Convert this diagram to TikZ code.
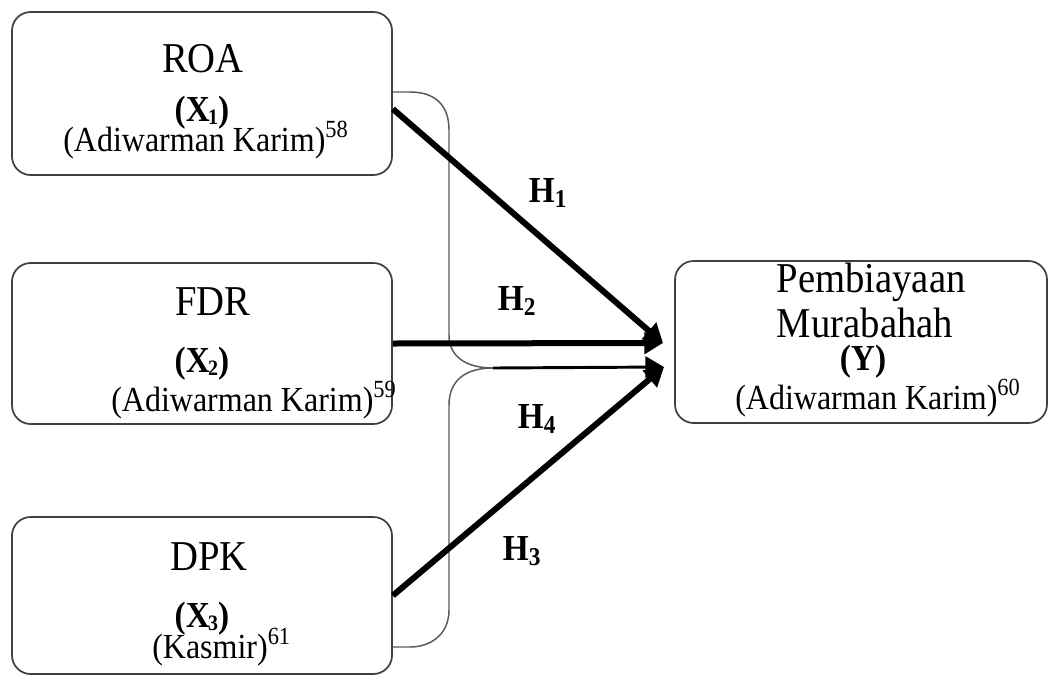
\documentclass[tikz,border=0pt]{standalone}
\usepackage{fontspec}
\usepackage{graphicx}
\setmainfont{Liberation Serif}
\usetikzlibrary{arrows.meta,calc}
\newcommand\vstretch[1]{\scalebox{1}[1.1]{#1}}
\newcommand\lowsub[1]{\kern-0.05em\raisebox{-0.1em}{\fontsize{15}{15}\selectfont #1}}
\begin{document}
\begin{tikzpicture}[x=0.75pt,y=-0.75pt,
  box/.style={draw=black!75, line width=1.3pt, rounded corners=14pt, inner sep=0pt},
  ttl/.style={anchor=base, inner sep=0pt, font=\fontsize{29}{30}\selectfont},
  var/.style={anchor=base, inner sep=0pt, font=\fontsize{25}{26}\selectfont\bfseries},
  cite/.style={anchor=base west, inner sep=0pt, font=\fontsize{24}{25}\selectfont},
  hyp/.style={anchor=base, inner sep=0pt, font=\fontsize{25}{26}\selectfont\bfseries},
  arr/.style={line width=4.5pt, -{Triangle[length=14pt,width=16pt]}},
  thinarr/.style={line width=2.2pt, -{Triangle[length=14pt,width=16pt]}},
  bracel/.style={draw=black!65, line width=1.1pt}]
\useasboundingbox (0,0) rectangle (1048,675);

% boxes
\node[box, minimum width=285pt, minimum height=122.25pt] (b1) at (202,93.5) {};
\node[box, minimum width=285pt, minimum height=120.75pt] (b2) at (202,343.5) {};
\node[box, minimum width=285pt, minimum height=117.75pt] (b3) at (202,595.5) {};
\node[box, minimum width=279pt, minimum height=121.5pt] (Y) at (861,342) {};

% texts box 1
\node[ttl] (t1) at (203,72) {\vstretch{ROA}};
\node[var] (v1) at (202,121) {\vstretch{(X\lowsub{1})}};
\node[cite] (c1) at (63,151) {\vstretch{(Adiwarman Karim)\textsuperscript{58}}};
% box 2
\node[ttl] (t2) at (213,315) {\vstretch{FDR}};
\node[var] (v2) at (202,372) {\vstretch{(X\lowsub{2})}};
\node[cite] (c2) at (111,411) {\vstretch{(Adiwarman Karim)\textsuperscript{59}}};
% box 3
\node[ttl] (t3) at (209,570) {\vstretch{DPK}};
\node[var] (v3) at (202,627) {\vstretch{(X\lowsub{3})}};
\node[cite] (c3) at (152,658) {\vstretch{(Kasmir)\textsuperscript{61}}};
% box Y
\node[ttl] (ty1) at (871,292) {\vstretch{Pembiayaan}};
\node[ttl] (ty2) at (865,337) {\vstretch{Murabahah}};
\node[var] (vy) at (863,370) {\vstretch{(Y)}};
\node[cite] (cy) at (735,409) {\vstretch{(Adiwarman Karim)\textsuperscript{60}}};

% brace
\coordinate (brtip) at (493,368);
\draw[bracel] (b1.east |- 0,92) -- (410,92) .. controls (435,92) and (449,105) .. (449,130)
  -- (449,335) .. controls (449,358) and (468,368) .. (brtip);
\draw[bracel] (brtip) .. controls (466,368) and (449,380) .. (449,405)
  -- (449,610) .. controls (449,635) and (430,647) .. (410,647) -- (b3.east |- 0,647);

% arrows
\coordinate (tipA) at (663,343);
\coordinate (tipB) at (664,367);
\draw[thinarr] (brtip) -- (tipB);
\draw[arr] ([yshift=-11.6pt]b1.east) -- (tipA);
\draw[arr] (b2.east) -- (tipA);
\draw[arr] (b3.east) -- (tipB);

% hypotheses
\node[hyp] (h1) at (548,202) {\vstretch{H\textsubscript{1}}};
\node[hyp] (h2) at (517,310) {\vstretch{H\textsubscript{2}}};
\node[hyp] (h4) at (537,428) {\vstretch{H\textsubscript{4}}};
\node[hyp] (h3) at (522,560) {\vstretch{H\textsubscript{3}}};
\end{tikzpicture}
\end{document}
